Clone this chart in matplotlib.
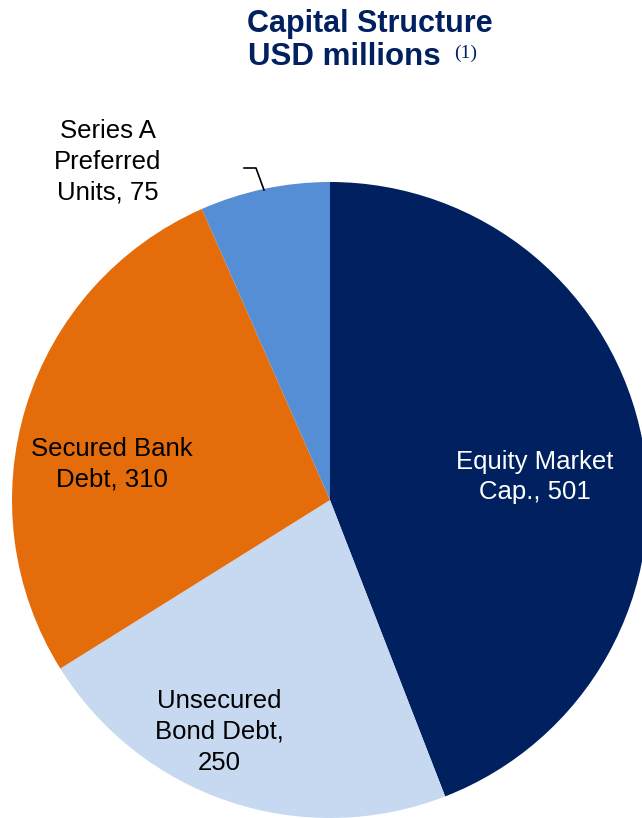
import matplotlib
matplotlib.use("Agg")
import matplotlib.pyplot as plt

# data ---------------------------------------------
segments = ["Equity Market\nCap., 501", "Unsecured\nBond Debt,\n250",
            "Secured Bank\nDebt, 310", "Series A\nPreferred\nUnits, 75"]
values = [501, 250, 310, 75]
colors = ["#002060", "#C6D9F1", "#E46C0A", "#558ED5"]

plt.rcParams['font.family'] = ['Liberation Sans', 'DejaVu Sans']

W, H = 642, 818
fig = plt.figure(figsize=(W / 100, H / 100), dpi=100)
ax = fig.add_axes([0, 0, 1, 1])

# pie, clockwise from the top, in pixel units
cx, cy, R = 330, H - 500, 318
ax.pie(values, colors=colors, startangle=90, counterclock=False,
       center=(cx, cy), radius=R, frame=True,
       wedgeprops=dict(linewidth=0))
ax.set_xlim(0, W)
ax.set_ylim(0, H)
ax.axis('off')

# labels (pixel positions from the top)
label_pos = [(535, 477, 'white'), (219, 732, 'black'),
             (112, 464, 'black'), (108, 162, 'black')]
for txt, (x, y, c) in zip(segments, label_pos):
    ax.text(x, H - y, txt, ha='center', va='center', fontsize=18.5,
            color=c, linespacing=1.35)

# leader line for the small slice
ax.plot([244, 256, 264], [H - 168, H - 168, H - 190], color='black', lw=1.2)

# title
navy = "#002060"
ax.text(370, H - 24, "Capital Structure", ha='center', va='center',
        fontsize=22, fontweight='bold', color=navy)
ax.text(344, H - 57, "USD millions", ha='center', va='center',
        fontsize=22.5, fontweight='bold', color=navy)
ax.text(466, H - 53, "(1)", ha='center', va='center', fontsize=14,
        family='Liberation Serif', color=navy)

fig.savefig("out.png", dpi=100)
